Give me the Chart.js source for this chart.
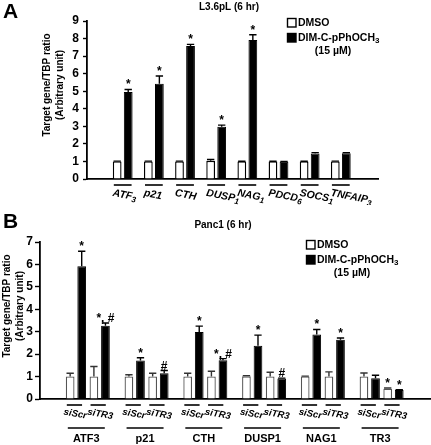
<!DOCTYPE html>
<html>
<head>
<meta charset="utf-8">
<script src="https://cdn.jsdelivr.net/npm/chart.js@4.4.1/dist/chart.umd.min.js"></script>
<style>
  html, body { margin: 0; padding: 0; background: #fff; }
  #wrap { position: relative; width: 431px; height: 445px; }
  .panel { position: absolute; left: 0; width: 431px; }
  #panelA { top: 0; height: 205px; }
  #panelB { top: 205px; height: 240px; }
</style>
</head>
<body>
<div id="wrap">
  <div class="panel" id="panelA"><canvas id="chartA"></canvas></div>
  <div class="panel" id="panelB"><canvas id="chartB"></canvas></div>
</div>
<script>
// "_" marca el siguiente carácter como subíndice
const seriesLabels = ['DMSO', 'DIM-C-pPhOCH_3'];
const doseLabel = '(15 µM)';

// Panel A: L3.6pL (6 hr)
const genesA = ['ATF_3', 'p21', 'CTH', 'DUSP_1', 'NAG_1', 'PDCD_6', 'SOCS_1', 'TNFAIP_3'];
const dmsoA = [1.0, 1.0, 1.0, 1.04, 1.0, 1.0, 1.0, 1.0];
const dmsoErrA = [0.02, 0.02, 0.02, 0.07, 0.01, 0.01, 0.01, 0.02];
const dimA = [4.95, 5.42, 7.58, 2.97, 7.92, 0.98, 1.45, 1.47];
const dimErrA = [0.15, 0.45, 0.09, 0.1, 0.3, 0.02, 0.05, 0.03];
const dimMarksA = ['*', '*', '*', '*', '*', '', '', ''];
const yTicksA = [0, 1, 2, 3, 4, 5, 6, 7, 8, 9];

// Panel B: Panc1 (6 hr), por gen: [siScr, siTR3]
const genesB = ['ATF3', 'p21', 'CTH', 'DUSP1', 'NAG1', 'TR3'];
const sirnaB = ['siScr', 'siTR3'];
const dmsoB = [1.0, 1.0, 1.0, 1.0, 1.0, 1.0, 1.01, 1.0, 1.0, 1.0, 1.0, 0.46];
const dmsoErrB = [0.15, 0.45, 0.08, 0.15, 0.15, 0.24, 0.03, 0.19, 0.02, 0.21, 0.16, 0.03];
const dimB = [5.92, 3.27, 1.72, 1.15, 2.99, 1.73, 2.37, 0.91, 2.88, 2.64, 0.93, 0.40];
const dimErrB = [0.67, 0.12, 0.12, 0.12, 0.26, 0.07, 0.48, 0.02, 0.22, 0.08, 0.13, 0.02];
const dmsoMarksB = ['', '', '', '', '', '', '', '', '', '', '', '*'];
const dimMarksB = ['*', '*, #', '*', '#', '*', '*, #', '*', '#', '*', '*', '', '*'];
const yTicksB = [0, 1, 2, 3, 4, 5, 6, 7];

const FAMILY = '"Liberation Sans", Arial, Helvetica, sans-serif';
const SUB_OFFSET = 0.404; // separación siScr / siTR3 dentro de cada gen

function font(size, italic) {
    return (italic ? 'italic ' : '') + 'bold ' + size + 'px ' + FAMILY;
}

function richParts(text) {
    const pieces = text.split('_');
    const parts = [{ t: pieces[0], sub: false }];
    for (let i = 1; i < pieces.length; i++) {
        parts.push({ t: pieces[i].charAt(0), sub: true });
        if (pieces[i].length > 1) parts.push({ t: pieces[i].slice(1), sub: false });
    }
    return parts;
}

function drawRich(ctx, text, x, y, size, italic) {
    let cx = x;
    ctx.textAlign = 'left';
    richParts(text).forEach(p => {
        const s = p.sub ? Math.round(size * 0.75) : size;
        ctx.font = font(s, italic);
        ctx.fillText(p.t, cx, p.sub ? y + size * 0.28 : y);
        cx += ctx.measureText(p.t).width;
    });
}

// Barras de error (solo hacia arriba) y marcas de significancia
const errorBarsPlugin = {
    id: 'errorBars',
    afterDatasetsDraw(chart) {
        const ctx = chart.ctx;
        const yScale = chart.scales.y;
        chart.data.datasets.forEach((ds, di) => {
            const meta = chart.getDatasetMeta(di);
            meta.data.forEach((bar, i) => {
                const top = yScale.getPixelForValue(ds.data[i].y + ds.errors[i]);
                const cap = bar.width * 0.42;
                ctx.save();
                ctx.strokeStyle = ds.errorColor;
                ctx.lineWidth = 1.4;
                ctx.beginPath();
                ctx.moveTo(bar.x, bar.y);
                ctx.lineTo(bar.x, top);
                ctx.moveTo(bar.x - cap, top);
                ctx.lineTo(bar.x + cap, top);
                ctx.stroke();
                const mark = ds.marks[i];
                if (mark) {
                    ctx.fillStyle = '#000';
                    ctx.font = font(12);
                    ctx.textAlign = 'center';
                    ctx.textBaseline = 'alphabetic';
                    ctx.fillText(mark, bar.x, top - 1);
                }
                ctx.restore();
            });
        });
    }
};

// Letra del panel, título, título del eje y y leyenda
function decorPlugin(cfg) {
    return {
        id: 'decor',
        afterDraw(chart) {
            const ctx = chart.ctx;
            const ds = chart.data.datasets;
            ctx.save();
            ctx.fillStyle = '#000';
            ctx.strokeStyle = '#000';
            ctx.textBaseline = 'alphabetic';
            ctx.textAlign = 'left';
            ctx.font = font(21);
            ctx.fillText(cfg.letter, cfg.letterX, cfg.letterY);

            ctx.font = font(10);
            ctx.textAlign = 'center';
            ctx.textBaseline = 'middle';
            ctx.fillText(cfg.title, cfg.titleX, cfg.titleY);

            // título del eje y en dos líneas
            ctx.save();
            ctx.translate(cfg.yTitleX, cfg.yTitleY);
            ctx.rotate(-Math.PI / 2);
            ctx.font = font(10);
            ctx.fillText('Target gene/TBP ratio', 0, 0);
            ctx.fillText('(Arbitrary unit)', 0, 13);
            ctx.restore();

            // leyenda
            const lx = cfg.legendX, ly = cfg.legendY;
            ds.forEach((d, i) => {
                const by = ly + i * 15;
                ctx.fillStyle = d.backgroundColor;
                ctx.fillRect(lx, by, 9, 9);
                ctx.lineWidth = 1.4;
                ctx.strokeRect(lx + 0.5, by + 0.5, 8.5, 8.5);
                ctx.fillStyle = '#000';
                ctx.textBaseline = 'middle';
                drawRich(ctx, d.label, lx + 11, by + 5, 10.5, false);
            });
            ctx.font = font(10.5);
            ctx.textAlign = 'center';
            ctx.fillText(doseLabel, lx + 46, ly + 33);
            ctx.restore();
        }
    };
}

// Etiquetas del eje x del panel A (cursiva, giradas, con línea superior)
const labelsAPlugin = {
    id: 'labelsA',
    afterDraw(chart) {
        const ctx = chart.ctx;
        const bottom = chart.chartArea.bottom;
        const m0 = chart.getDatasetMeta(0).data;
        const m1 = chart.getDatasetMeta(1).data;
        ctx.save();
        ctx.fillStyle = '#000';
        ctx.strokeStyle = '#000';
        ctx.lineWidth = 1.6;
        genesA.forEach((gene, i) => {
            const left = m0[i].x - m0[i].width / 2;
            const right = m1[i].x + m1[i].width / 2;
            ctx.beginPath();
            ctx.moveTo(left + 1, bottom + 6);
            ctx.lineTo(right - 1, bottom + 6);
            ctx.stroke();
            ctx.save();
            ctx.translate(left, bottom + 14);
            ctx.rotate(11 * Math.PI / 180);
            ctx.textBaseline = 'middle';
            drawRich(ctx, gene, 0, 0, 10.5, true);
            ctx.restore();
        });
        ctx.restore();
    }
};

// Etiquetas del eje x del panel B: siRNA y gen
const labelsBPlugin = {
    id: 'labelsB',
    afterDraw(chart) {
        const ctx = chart.ctx;
        const bottom = chart.chartArea.bottom;
        const m0 = chart.getDatasetMeta(0).data;
        const m1 = chart.getDatasetMeta(1).data;
        ctx.save();
        ctx.fillStyle = '#000';
        ctx.strokeStyle = '#000';
        ctx.lineWidth = 1.6;
        genesB.forEach((gene, g) => {
            sirnaB.forEach((si, s) => {
                const k = g * 2 + s;
                const left = m0[k].x - m0[k].width / 2;
                const right = m1[k].x + m1[k].width / 2;
                ctx.beginPath();
                ctx.moveTo(left + 1, bottom + 6);
                ctx.lineTo(right - 4, bottom + 6);
                ctx.stroke();
                ctx.save();
                ctx.translate(left - 2, bottom + 13);
                ctx.rotate(10 * Math.PI / 180);
                ctx.textBaseline = 'middle';
                drawRich(ctx, si, 0, 0, 9.5, true);
                ctx.restore();
            });
            const gl = m0[g * 2].x - m0[g * 2].width / 2 + 2;
            const gr = m1[g * 2 + 1].x + m1[g * 2 + 1].width / 2 - 5;
            ctx.beginPath();
            ctx.moveTo(gl, bottom + 29);
            ctx.lineTo(gr, bottom + 29);
            ctx.stroke();
            ctx.font = font(11);
            ctx.textAlign = 'center';
            ctx.textBaseline = 'middle';
            ctx.fillText(gene, (gl + gr) / 2, bottom + 40);
        });
        ctx.restore();
    }
};

function yAxis(ticks, width, tickLength, padding) {
    return {
        min: ticks[0],
        max: ticks[ticks.length - 1],
        afterFit: s => { s.width = width; },
        afterBuildTicks: s => { s.ticks = ticks.map(v => ({ value: v })); },
        ticks: { color: '#000', padding: padding, font: { family: FAMILY, size: 12, weight: 'bold' } },
        grid: { drawOnChartArea: false, color: '#000', tickLength: tickLength, tickWidth: 1.4 },
        border: { color: '#000', width: 1.8 }
    };
}

function xAxis(min, max, positions) {
    return {
        type: 'linear',
        min: min,
        max: max,
        afterFit: s => { s.height = 0; },
        afterBuildTicks: s => { s.ticks = positions.map(v => ({ value: v })); },
        grid: { display: false },
        ticks: { display: false },
        border: { color: '#000', width: 1.8 }
    };
}

// Inicializa el gráfico del panel A
function initChartA() {
    const ctx = document.getElementById('chartA').getContext('2d');
    const pos = genesA.map((g, i) => i);
    new Chart(ctx, {
        type: 'bar',
        data: {
            datasets: [{
                label: seriesLabels[0],
                data: dmsoA.map((v, i) => ({ x: pos[i], y: v })),
                errors: dmsoErrA,
                marks: dmsoA.map(() => ''),
                errorColor: '#000',
                backgroundColor: '#fff',
                borderColor: '#000',
                borderWidth: 1.4
            }, {
                label: seriesLabels[1],
                data: dimA.map((v, i) => ({ x: pos[i], y: v })),
                errors: dimErrA,
                marks: dimMarksA,
                errorColor: '#000',
                backgroundColor: '#000',
                borderColor: '#000',
                borderWidth: 1
            }]
        },
        options: {
            responsive: true,
            maintainAspectRatio: false,
            animation: false,
            categoryPercentage: 0.708,
            barPercentage: 0.794,
            layout: { padding: { left: 57, right: 53, top: 21, bottom: 26 } },
            plugins: { legend: { display: false }, tooltip: { enabled: false } },
            scales: {
                x: xAxis(-0.562, 7.61, pos),
                y: yAxis(yTicksA, 30, 4, 4)
            }
        },
        plugins: [errorBarsPlugin, labelsAPlugin, decorPlugin({
            letter: 'A', letterX: 3, letterY: 18,
            title: 'L3.6pL (6 hr)', titleX: 229, titleY: 7,
            yTitleX: 47, yTitleY: 85,
            legendX: 287, legendY: 18
        })]
    });
}

// Inicializa el gráfico del panel B
function initChartB() {
    const ctx = document.getElementById('chartB').getContext('2d');
    const pos = dmsoB.map((v, k) => Math.floor(k / 2) + (k % 2) * SUB_OFFSET);
    new Chart(ctx, {
        type: 'bar',
        data: {
            datasets: [{
                label: seriesLabels[0],
                data: dmsoB.map((v, k) => ({ x: pos[k], y: v })),
                errors: dmsoErrB,
                marks: dmsoMarksB,
                errorColor: '#333',
                backgroundColor: '#fff',
                borderColor: '#555',
                borderWidth: 1.3
            }, {
                label: seriesLabels[1],
                data: dimB.map((v, k) => ({ x: pos[k], y: v })),
                errors: dimErrB,
                marks: dimMarksB,
                errorColor: '#000',
                backgroundColor: '#000',
                borderColor: '#000',
                borderWidth: 1
            }]
        },
        options: {
            responsive: true,
            maintainAspectRatio: false,
            animation: false,
            categoryPercentage: 0.973,
            barPercentage: 0.754,
            layout: { padding: { left: 10, right: 1, top: 37, bottom: 46 } },
            plugins: { legend: { display: false }, tooltip: { enabled: false } },
            scales: {
                x: xAxis(-0.335, 5.749, pos),
                y: yAxis(yTicksB, 30, 5, 2)
            }
        },
        plugins: [errorBarsPlugin, labelsBPlugin, decorPlugin({
            letter: 'B', letterX: 3, letterY: 23,
            title: 'Panc1 (6 hr)', titleX: 223, titleY: 20,
            yTitleX: 7, yTitleY: 101,
            legendX: 306, legendY: 35
        })]
    });
}

document.addEventListener('DOMContentLoaded', function() {
    initChartA();
    initChartB();
});
</script>
</body>
</html>
